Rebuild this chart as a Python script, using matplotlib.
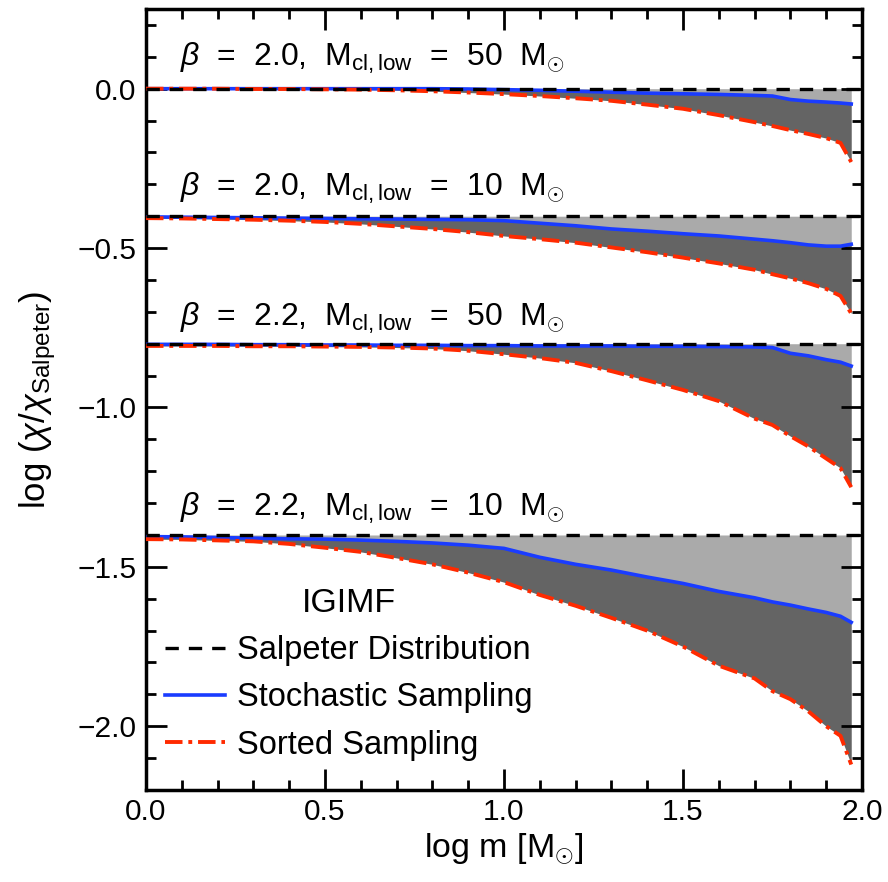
import numpy as np
import matplotlib
matplotlib.use("Agg")
import matplotlib.pyplot as plt
from matplotlib.ticker import MultipleLocator

plt.rcParams["font.family"] = ["Liberation Sans", "DejaVu Sans"]
plt.rcParams["mathtext.fontset"] = "custom"
plt.rcParams["mathtext.rm"] = "Liberation Sans"
plt.rcParams["mathtext.it"] = "Liberation Sans:italic"

# log m grid
log_m = [0.0, 0.1, 0.2, 0.3, 0.4, 0.5, 0.6, 0.7, 0.8, 0.9, 1.0, 1.1, 1.2,
         1.3, 1.4, 1.5, 1.6, 1.7, 1.75, 1.8, 1.85, 1.9, 1.94, 1.97]

# vertical offsets of each case (Salpeter reference level)
offsets = [0.0, -0.4, -0.8, -1.4]
labels = [r"$\beta$  =  2.0,  M$_{\rm cl,low}$  =  50  M$_{\odot}$",
          r"$\beta$  =  2.0,  M$_{\rm cl,low}$  =  10  M$_{\odot}$",
          r"$\beta$  =  2.2,  M$_{\rm cl,low}$  =  50  M$_{\odot}$",
          r"$\beta$  =  2.2,  M$_{\rm cl,low}$  =  10  M$_{\odot}$"]
label_y = [0.094, -0.313, -0.72, -1.317]

# log(chi/chi_Salpeter) relative to each offset
stoch_b20_50 = [0, 0, 0, 0, 0, 0, 0, 0, 0, -0.001, -0.003, -0.005, -0.008,
                -0.011, -0.014, -0.016, -0.018, -0.021, -0.023, -0.034, -0.039,
                -0.042, -0.045, -0.048]
sorted_b20_50 = [0, 0, 0, -0.001, -0.001, -0.002, -0.003, -0.005, -0.008,
                 -0.012, -0.017, -0.023, -0.03, -0.038, -0.05, -0.063, -0.083,
                 -0.105, -0.117, -0.13, -0.142, -0.155, -0.17, -0.23]

stoch_b20_10 = [-0.002, -0.003, -0.004, -0.005, -0.006, -0.007, -0.008,
                -0.009, -0.01, -0.011, -0.014, -0.022, -0.03, -0.04, -0.047,
                -0.055, -0.062, -0.072, -0.077, -0.083, -0.09, -0.094, -0.094,
                -0.088]
sorted_b20_10 = [-0.006, -0.007, -0.009, -0.011, -0.014, -0.018, -0.024,
                 -0.032, -0.04, -0.05, -0.062, -0.072, -0.083, -0.098, -0.113,
                 -0.13, -0.148, -0.168, -0.182, -0.195, -0.21, -0.228, -0.25,
                 -0.305]

stoch_b22_50 = [-0.002, -0.002, -0.002, -0.003, -0.003, -0.004, -0.004,
                -0.005, -0.005, -0.006, -0.006, -0.007, -0.007, -0.007, -0.008,
                -0.008, -0.009, -0.01, -0.012, -0.03, -0.038, -0.05, -0.058,
                -0.07]
sorted_b22_50 = [-0.007, -0.007, -0.007, -0.008, -0.008, -0.009, -0.01,
                 -0.012, -0.015, -0.022, -0.033, -0.045, -0.06, -0.086, -0.115,
                 -0.145, -0.18, -0.235, -0.255, -0.29, -0.322, -0.36, -0.39,
                 -0.45]

stoch_b22_10 = [-0.005, -0.006, -0.008, -0.01, -0.012, -0.013, -0.016, -0.02,
                -0.025, -0.032, -0.042, -0.07, -0.092, -0.11, -0.132, -0.152,
                -0.177, -0.197, -0.21, -0.22, -0.232, -0.243, -0.255, -0.274]
sorted_b22_10 = [-0.013, -0.014, -0.017, -0.02, -0.028, -0.04, -0.053,
                 -0.072, -0.092, -0.118, -0.148, -0.188, -0.222, -0.26, -0.3,
                 -0.35, -0.41, -0.45, -0.49, -0.515, -0.553, -0.6, -0.63, -0.72]

stochastic = [stoch_b20_50, stoch_b20_10, stoch_b22_50, stoch_b22_10]
sorted_s = [sorted_b20_50, sorted_b20_10, sorted_b22_50, sorted_b22_10]

DASH = (0, (4, 3))
DASHDOT = (0, (4.5, 1.5, 1, 1.5))

fig = plt.figure(figsize=(8.88, 8.82), dpi=100)
ax = fig.add_axes([0.1644, 0.1043, 0.8063, 0.8855])

x = np.array(log_m)
fs = 21.5
fs_big = 23.5
for off, st, so, lab, ly in zip(offsets, stochastic, sorted_s, labels, label_y):
    st = off + np.array(st)
    so = off + np.array(so)
    ax.fill_between(x, off, st, color="#aaaaaa", lw=0, zorder=1)
    ax.fill_between(x, st, so, color="#646464", lw=0, zorder=1)
    ax.plot(x, st, color="#1a3cff", lw=2.6, zorder=3)
    ax.plot(x, so, color="#ff2a00", lw=2.8, ls=DASHDOT, zorder=3)
    ax.plot([0, 2.0], [off, off], color="black", lw=2.4, ls=DASH, zorder=4)
    ax.text(0.095, ly, lab, fontsize=fs_big - 0.5, va="center", ha="left")

ax.set_xlim(0, 2.0)
ax.set_ylim(-2.2, 0.25)
ax.xaxis.set_major_locator(MultipleLocator(0.5))
ax.xaxis.set_minor_locator(MultipleLocator(0.1))
ax.yaxis.set_major_locator(MultipleLocator(0.5))
ax.yaxis.set_minor_locator(MultipleLocator(0.1))
ax.tick_params(which="both", direction="in", top=True, right=True, width=2,
               labelsize=fs)
ax.tick_params(axis="x", pad=6)
ax.tick_params(axis="y", pad=7)
ax.tick_params(which="major", length=15)
ax.tick_params(which="minor", length=7)
for s in ax.spines.values():
    s.set_linewidth(2.5)

ax.set_xlabel(r"log m [M$_{\odot}$]", fontsize=fs_big + 1, labelpad=4)
ax.set_ylabel(r"log ($\chi$/$\chi_{\rm Salpeter}$)", fontsize=fs_big + 1.5,
              labelpad=14)

h1, = ax.plot([], [], color="black", lw=2.4, ls=DASH)
h2, = ax.plot([], [], color="#1a3cff", lw=2.6)
h3, = ax.plot([], [], color="#ff2a00", lw=2.8, ls=DASHDOT)
leg = ax.legend([h1, h2, h3],
                ["Salpeter Distribution", "Stochastic Sampling", "Sorted Sampling"],
                title="IGIMF", loc="lower left", bbox_to_anchor=(-0.015, 0.0),
                frameon=False, fontsize=fs_big, title_fontsize=fs_big + 1,
                handlelength=1.85, handletextpad=0.36, labelspacing=0.5)

fig.savefig("out.png", dpi=100)
